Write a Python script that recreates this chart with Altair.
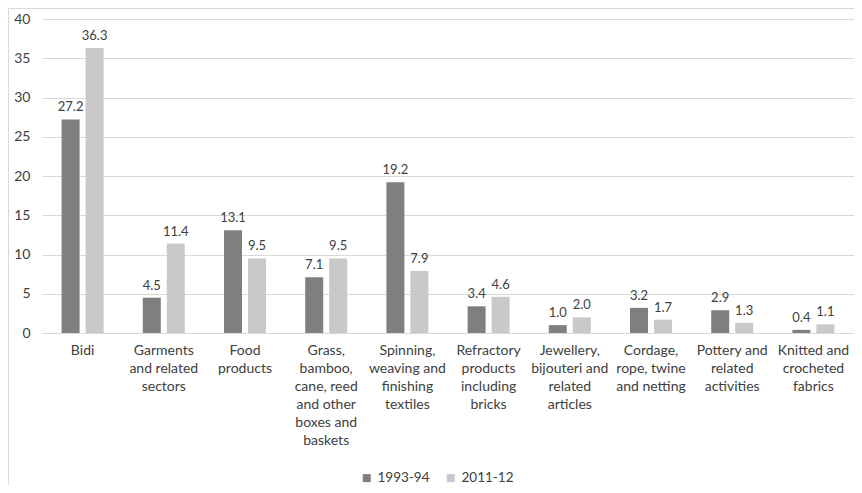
import altair as alt
import pandas as pd

categories = [
    "Bidi",
    "Garments\nand related\nsectors",
    "Food\nproducts",
    "Grass,\nbamboo,\ncane, reed\nand other\nboxes and\nbaskets",
    "Spinning,\nweaving and\nfinishing\ntextiles",
    "Refractory\nproducts\nincluding\nbricks",
    "Jewellery,\nbijouteri and\nrelated\narticles",
    "Cordage,\nrope, twine\nand netting",
    "Pottery and\nrelated\nactivities",
    "Knitted and\ncrocheted\nfabrics",
]
series_names = ["1993-94", "2011-12"]
values_1993 = [27.2, 4.5, 13.1, 7.1, 19.2, 3.4, 1.0, 3.2, 2.9, 0.4]
values_2011 = [36.3, 11.4, 9.5, 9.5, 7.9, 4.6, 2.0, 1.7, 1.3, 1.1]
y_ticks = [0, 5, 10, 15, 20, 25, 30, 35, 40]
colors = ["#7f7f7f", "#c9c9c9"]

rows = []
for c, a, b in zip(categories, values_1993, values_2011):
    rows.append({"category": c, "series": series_names[0], "value": a})
    rows.append({"category": c, "series": series_names[1], "value": b})
df = pd.DataFrame(rows)

x_enc = alt.X(
    "category:N",
    sort=categories,
    scale=alt.Scale(paddingInner=0, paddingOuter=0),
    axis=alt.Axis(
        title=None,
        labelAngle=0,
        labelExpr="split(datum.label, '\\n')",
        labelLineHeight=18,
        labelFontSize=14,
        labelColor="#404040",
        labelPadding=10,
        ticks=False,
        tickSize=0,
        domainColor="#d9d9d9",
        labelLimit=200,
    ),
)
xoff = alt.XOffset(
    "series:N", sort=series_names,
    scale=alt.Scale(paddingInner=0.25, paddingOuter=0.817),
)
y_enc = alt.Y(
    "value:Q",
    scale=alt.Scale(domain=[0, 40], nice=False),
    axis=alt.Axis(
        title=None,
        values=y_ticks,
        tickCount=9,
        labelOverlap=False,
        domain=False,
        ticks=False,
        tickSize=0,
        labelPadding=12,
        labelFontSize=14,
        labelColor="#404040",
        gridColor="#d9d9d9",
    ),
)

base = alt.Chart(df)

bars = base.mark_bar().encode(
    x=x_enc,
    xOffset=xoff,
    y=y_enc,
    color=alt.Color(
        "series:N",
        sort=series_names,
        scale=alt.Scale(domain=series_names, range=colors),
        legend=alt.Legend(
            title=None,
            orient="none",
            direction="horizontal",
            legendX=318,
            legendY=452,
            symbolType="square",
            symbolSize=64,
            symbolStrokeWidth=0,
            labelFontSize=13.5,
            labelColor="#404040",
            columnPadding=14,
            labelOffset=4,
            padding=0,
        ),
    ),
)

labels = base.mark_text(
    baseline="bottom", dy=-5, fontSize=13, color="#404040"
).encode(
    x=x_enc,
    xOffset=xoff,
    y=y_enc,
    text=alt.Text("value:Q", format=".1f"),
)

frame = alt.Chart(pd.DataFrame({"a": [0]})).mark_rect(
    filled=False, stroke="#d9d9d9", strokeWidth=1
).encode(
    x=alt.value(-33.5), x2=alt.value(900), y=alt.value(-10.5), y2=alt.value(700)
)

chart = alt.layer(frame, bars, labels).properties(
    width=812,
    height=314,
    autosize=alt.AutoSizeParams(type="none"),
    padding={"left": 34, "top": 11, "right": 0, "bottom": 152},
).configure(font="Lato").configure_view(stroke=None)

chart.save("out.html", embed_options={"renderer": "svg", "actions": False})
